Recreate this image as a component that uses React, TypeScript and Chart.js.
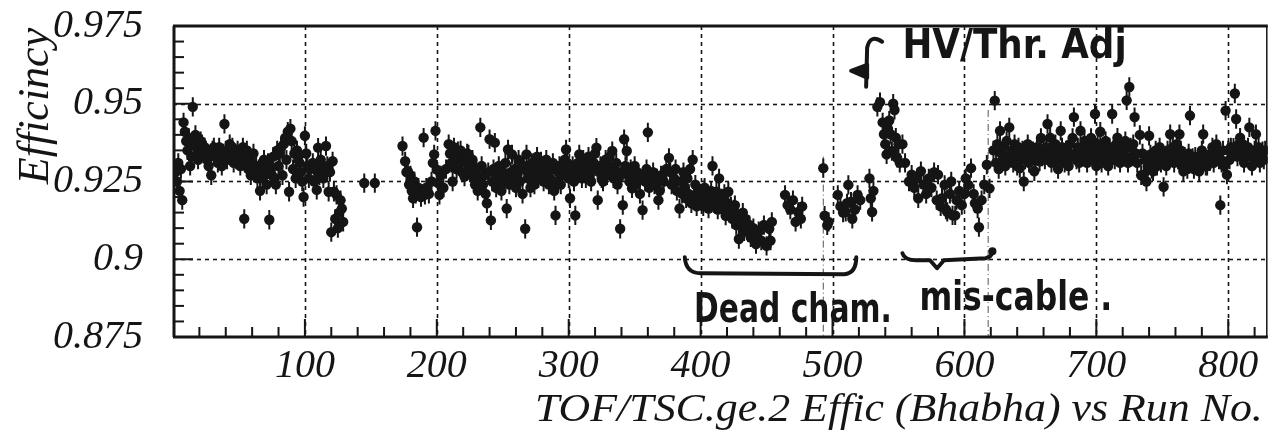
import { useEffect, useRef } from "react";
import { Chart, registerables } from "chart.js";

Chart.register(...registerables);

type Meas = [number, number]; // [run number, efficiency]

// Runs 1-155
const PERIOD_A: Meas[] = [
  [2, 0.928], [3, 0.925], [4, 0.931], [5, 0.922], [6, 0.929], [7, 0.919], [8, 0.944], [9, 0.941],
  [10, 0.938], [11, 0.935], [12, 0.939], [13, 0.93], [14, 0.933], [15, 0.949], [16, 0.937], [17, 0.94],
  [18, 0.936], [19, 0.932], [20, 0.934], [21, 0.938], [22, 0.937], [23, 0.934], [24, 0.936], [25, 0.935],
  [26, 0.932], [27, 0.93], [28, 0.933], [29, 0.927], [30, 0.935], [31, 0.936], [32, 0.933], [33, 0.934],
  [34, 0.931], [35, 0.936], [36, 0.933], [37, 0.93], [38, 0.934], [39, 0.9435], [40, 0.935], [41, 0.932],
  [42, 0.934], [43, 0.937], [44, 0.933], [45, 0.936], [46, 0.931], [47, 0.934], [48, 0.932], [49, 0.935],
  [50, 0.933], [51, 0.93], [52, 0.934], [53, 0.936], [54, 0.913], [55, 0.932], [56, 0.935], [57, 0.929],
  [58, 0.933], [59, 0.927], [60, 0.931], [61, 0.934], [62, 0.928], [63, 0.93], [64, 0.926], [65, 0.929],
  [66, 0.922], [67, 0.93], [68, 0.926], [69, 0.932], [70, 0.928], [71, 0.924], [72, 0.931], [73, 0.9127],
  [74, 0.929], [75, 0.927], [76, 0.933], [77, 0.926], [78, 0.924], [79, 0.935], [80, 0.93], [81, 0.934],
  [82, 0.936], [83, 0.927], [84, 0.937], [85, 0.939], [86, 0.932], [87, 0.941], [88, 0.9217], [89, 0.942],
  [90, 0.938], [91, 0.929], [92, 0.934], [93, 0.926], [94, 0.935], [95, 0.933], [96, 0.931], [97, 0.928],
  [98, 0.925], [99, 0.92], [100, 0.9397], [101, 0.934], [102, 0.93], [103, 0.926], [104, 0.929], [106, 0.931],
  [107, 0.925], [108, 0.929], [109, 0.9223], [110, 0.9359], [111, 0.927], [112, 0.932], [113, 0.93], [114, 0.926],
  [115, 0.928], [116, 0.9364], [117, 0.93], [118, 0.9217], [119, 0.928], [120, 0.9087], [121, 0.9315], [122, 0.9217],
  [123, 0.913], [124, 0.9207], [125, 0.91], [126, 0.915], [127, 0.919], [128, 0.9163], [129, 0.912],
  [145, 0.9245], [153, 0.9245],
];

// Runs 174-415
const PERIOD_B: Meas[] = [
  [174, 0.9364], [176, 0.9315], [177, 0.928], [178, 0.9283], [179, 0.924], [180, 0.927], [181, 0.922], [182, 0.9196],
  [183, 0.925], [184, 0.921], [185, 0.9103], [186, 0.923], [188, 0.92], [190, 0.9391], [191, 0.9207], [192, 0.923],
  [194, 0.921], [196, 0.925], [197, 0.931], [198, 0.9337], [199, 0.9413], [200, 0.9288], [201, 0.9245], [202, 0.9207],
  [203, 0.927], [205, 0.923], [207, 0.929], [209, 0.937], [210, 0.934], [211, 0.931], [212, 0.925], [213, 0.936],
  [214, 0.933], [215, 0.929], [216, 0.9348], [217, 0.931], [218, 0.935], [219, 0.928], [220, 0.933], [221, 0.9266],
  [222, 0.931], [223, 0.934], [224, 0.9337], [225, 0.93], [226, 0.928], [227, 0.932], [228, 0.926], [229, 0.924],
  [230, 0.929], [231, 0.922], [232, 0.926], [233, 0.9424], [234, 0.93], [235, 0.924], [236, 0.927], [237, 0.921],
  [238, 0.918], [239, 0.928], [240, 0.9386], [241, 0.9125], [242, 0.925], [243, 0.929], [244, 0.9375], [245, 0.923],
  [246, 0.927], [247, 0.93], [248, 0.925], [249, 0.922], [250, 0.928], [251, 0.926], [252, 0.931], [253, 0.9163],
  [254, 0.9353], [255, 0.924], [256, 0.928], [257, 0.9337], [258, 0.926], [259, 0.929], [260, 0.923], [261, 0.927],
  [262, 0.932], [263, 0.925], [264, 0.929], [265, 0.921], [266, 0.93], [267, 0.9098], [268, 0.9337], [269, 0.926],
  [270, 0.928], [271, 0.923], [272, 0.931], [273, 0.927], [274, 0.924], [275, 0.929], [276, 0.933], [277, 0.926],
  [278, 0.93], [279, 0.9315], [280, 0.928], [281, 0.925], [282, 0.93], [283, 0.932], [284, 0.927], [285, 0.924],
  [286, 0.926], [287, 0.929], [288, 0.931], [289, 0.922], [290, 0.9141], [291, 0.925], [292, 0.928], [293, 0.93],
  [294, 0.924], [295, 0.927], [296, 0.929], [297, 0.932], [298, 0.9353], [299, 0.931], [300, 0.926], [301, 0.9196],
  [302, 0.928], [303, 0.93], [304, 0.925], [305, 0.9141], [306, 0.927], [307, 0.931], [308, 0.9337], [309, 0.929],
  [310, 0.926], [311, 0.932], [312, 0.928], [313, 0.926], [314, 0.93], [315, 0.933], [316, 0.927], [317, 0.925],
  [318, 0.929], [319, 0.931], [320, 0.934], [321, 0.9359], [322, 0.919], [323, 0.928], [324, 0.93], [325, 0.926],
  [326, 0.925], [327, 0.929], [328, 0.932], [329, 0.927], [330, 0.93], [331, 0.933], [332, 0.928], [333, 0.9348],
  [334, 0.926], [335, 0.929], [336, 0.931], [337, 0.924], [338, 0.926], [339, 0.9098], [340, 0.928], [341, 0.9174],
  [342, 0.9386], [343, 0.93], [344, 0.9348], [345, 0.927], [346, 0.925], [347, 0.929], [348, 0.9228], [349, 0.927],
  [350, 0.93], [351, 0.924], [352, 0.928], [353, 0.926], [354, 0.921], [356, 0.9158], [357, 0.927], [358, 0.925],
  [359, 0.929], [360, 0.9408], [361, 0.923], [362, 0.926], [364, 0.928], [365, 0.924], [367, 0.926], [368, 0.919],
  [369, 0.922], [370, 0.927], [372, 0.925], [374, 0.929], [376, 0.9326], [377, 0.928], [378, 0.924], [380, 0.926],
  [381, 0.929], [382, 0.922], [384, 0.9163], [385, 0.925], [386, 0.921], [387, 0.928], [388, 0.923], [389, 0.9196],
  [390, 0.926], [391, 0.921], [392, 0.929], [393, 0.918], [394, 0.932], [395, 0.92], [396, 0.924], [397, 0.917],
  [398, 0.922], [399, 0.919], [400, 0.921], [401, 0.9196], [402, 0.917], [403, 0.923], [404, 0.918], [405, 0.92],
  [406, 0.9163], [407, 0.919], [408, 0.922], [409, 0.93], [410, 0.918], [411, 0.92], [412, 0.9217], [413, 0.916],
  [414, 0.926], [415, 0.919],
];

// Runs 416-531, dead chamber
const DEAD_CHAMBER: Meas[] = [
  [416, 0.9196], [417, 0.916], [418, 0.921], [419, 0.914], [420, 0.918], [421, 0.9217], [422, 0.915], [423, 0.917],
  [424, 0.913], [425, 0.916], [426, 0.9174], [427, 0.911], [428, 0.914], [429, 0.9065], [430, 0.912], [431, 0.9109],
  [432, 0.915], [433, 0.909], [434, 0.913], [436, 0.9087], [437, 0.911], [438, 0.907], [440, 0.91], [441, 0.9076],
  [442, 0.9049], [444, 0.909], [446, 0.906], [448, 0.911], [450, 0.9043], [452, 0.9098], [453, 0.906], [454, 0.912],
  [464, 0.9207], [466, 0.9174], [468, 0.916], [470, 0.919], [472, 0.912], [474, 0.9152], [476, 0.913], [477, 0.917],
  [493, 0.9293], [494, 0.914], [496, 0.9109], [497, 0.912], [504, 0.9207], [506, 0.917], [508, 0.915], [510, 0.9152],
  [511, 0.918], [512, 0.9239], [514, 0.9185], [515, 0.913], [517, 0.916], [519, 0.9207], [521, 0.919], [528, 0.926],
  [529, 0.9196], [530, 0.9152], [531, 0.922],
];

// Runs 534-551, after HV / threshold adjustment
const HV_ADJUST: Meas[] = [
  [534, 0.949], [536, 0.9505], [538, 0.944], [539, 0.9402], [540, 0.937], [541, 0.9337], [542, 0.942], [543, 0.9446],
  [544, 0.9402], [545, 0.9348], [546, 0.95], [547, 0.948], [548, 0.9391], [549, 0.9326], [550, 0.937], [551, 0.931],
];

// Runs 553-619, mis-cabled
const MIS_CABLE: Meas[] = [
  [553, 0.937], [555, 0.931], [558, 0.925], [560, 0.9272], [562, 0.923], [564, 0.926], [565, 0.9196], [567, 0.9283],
  [569, 0.924], [571, 0.921], [573, 0.926], [575, 0.923], [577, 0.928], [579, 0.919], [580, 0.9272], [582, 0.917],
  [583, 0.9196], [585, 0.9239], [586, 0.916], [587, 0.9152], [589, 0.921], [590, 0.925], [591, 0.9141], [593, 0.9141],
  [594, 0.919], [596, 0.922], [598, 0.9174], [600, 0.921], [601, 0.926], [603, 0.9239], [605, 0.9293], [607, 0.921],
  [608, 0.918], [610, 0.9163], [611, 0.9103], [613, 0.919], [615, 0.924], [617, 0.9304], [619, 0.9228],
];

// Runs 622-828
const PERIOD_C: Meas[] = [
  [622, 0.935], [623, 0.951], [624, 0.931], [625, 0.937], [626, 0.929], [627, 0.9413], [628, 0.934], [629, 0.932],
  [630, 0.936], [631, 0.93], [632, 0.938], [633, 0.933], [634, 0.9424], [635, 0.9326], [636, 0.935], [637, 0.931],
  [638, 0.937], [639, 0.934], [640, 0.93], [641, 0.936], [642, 0.9293], [643, 0.933], [644, 0.935], [645, 0.925],
  [646, 0.932], [647, 0.934], [648, 0.937], [649, 0.931], [650, 0.935], [651, 0.933], [652, 0.9348], [653, 0.9283],
  [654, 0.932], [655, 0.936], [656, 0.934], [657, 0.9315], [658, 0.939], [659, 0.933], [660, 0.935], [661, 0.932],
  [662, 0.936], [663, 0.9435], [664, 0.934], [665, 0.9391], [666, 0.931], [667, 0.935], [668, 0.9337], [669, 0.937],
  [670, 0.932], [671, 0.929], [672, 0.934], [673, 0.9413], [674, 0.936], [675, 0.933], [676, 0.931], [677, 0.935],
  [678, 0.9348], [679, 0.93], [680, 0.937], [681, 0.933], [682, 0.939], [683, 0.9457], [684, 0.934], [685, 0.932],
  [686, 0.936], [687, 0.931], [688, 0.9413], [689, 0.935], [690, 0.933], [691, 0.938], [692, 0.934], [693, 0.931],
  [694, 0.936], [695, 0.933], [696, 0.939], [697, 0.935], [698, 0.932], [699, 0.9467], [700, 0.93], [701, 0.937],
  [702, 0.934], [703, 0.941], [704, 0.931], [705, 0.935], [706, 0.9326], [707, 0.938], [708, 0.934], [709, 0.93],
  [710, 0.936], [711, 0.933], [712, 0.9467], [713, 0.935], [714, 0.932], [715, 0.937], [716, 0.9391], [717, 0.934],
  [718, 0.931], [719, 0.936], [720, 0.933], [721, 0.9348], [722, 0.938], [723, 0.9511], [724, 0.931], [725, 0.9554],
  [726, 0.936], [727, 0.933], [728, 0.937], [729, 0.9457], [730, 0.934], [731, 0.931], [733, 0.94], [734, 0.927],
  [735, 0.934], [736, 0.9272], [737, 0.932], [738, 0.925], [739, 0.93], [740, 0.9397], [741, 0.9337], [742, 0.929],
  [743, 0.9283], [744, 0.932], [745, 0.935], [746, 0.93], [747, 0.933], [748, 0.936], [749, 0.931], [750, 0.934],
  [751, 0.9233], [752, 0.9326], [753, 0.93], [754, 0.935], [755, 0.932], [756, 0.9402], [757, 0.933], [758, 0.936],
  [759, 0.931], [760, 0.934], [761, 0.937], [762, 0.932], [763, 0.9402], [764, 0.935], [765, 0.93], [766, 0.9283],
  [767, 0.933], [768, 0.931], [769, 0.929], [770, 0.934], [771, 0.9462], [772, 0.931], [773, 0.9326], [774, 0.929],
  [775, 0.933], [776, 0.93], [777, 0.932], [778, 0.9283], [779, 0.931], [780, 0.935], [781, 0.9402], [782, 0.933],
  [783, 0.93], [784, 0.93], [785, 0.932], [786, 0.9315], [787, 0.934], [788, 0.936], [789, 0.931], [790, 0.933],
  [791, 0.937], [792, 0.934], [793, 0.932], [794, 0.9174], [795, 0.931], [796, 0.935], [797, 0.93], [798, 0.9478],
  [799, 0.9272], [800, 0.935], [801, 0.932], [802, 0.936], [803, 0.934], [804, 0.9359], [805, 0.9533], [806, 0.9451],
  [807, 0.933], [808, 0.937], [809, 0.9391], [810, 0.934], [811, 0.937], [812, 0.931], [813, 0.935], [814, 0.933],
  [815, 0.936], [816, 0.9424], [817, 0.934], [818, 0.93], [819, 0.9326], [820, 0.935], [821, 0.9402], [822, 0.933],
  [823, 0.936], [824, 0.931], [825, 0.934], [826, 0.9348], [827, 0.932], [828, 0.935],
];

const PERIODS: Meas[][] = [PERIOD_A, PERIOD_B, DEAD_CHAMBER, HV_ADJUST, MIS_CABLE, PERIOD_C];

const ERR = 0.0031; // statistical error on each run's efficiency

const RUN_MIN = 0;
const RUN_MAX = 830;
const EFF_MIN = 0.875;
const EFF_MAX = 0.975;

const X_TICKS = [100, 200, 300, 400, 500, 600, 700, 800];
const Y_TICKS = [0.875, 0.9, 0.925, 0.95, 0.975];
const Y_TICK_LABELS = ["0.875", "0.9", "0.925", "0.95", "0.975"];

const X_TITLE = "TOF/TSC.ge.2 Effic (Bhabha) vs Run No.";
const Y_TITLE = "Efficincy";

// Hand-written notes: text spread between two runs, baseline at an efficiency
const NOTES = [
  { text: "HV/Thr. Adj", from: 553, to: 723, eff: 0.9647 },
  { text: "Dead cham.", from: 395, to: 545, eff: 0.8798 },
  { text: "mis-cable .", from: 566, to: 712, eff: 0.8838 },
];
const DEAD_BRACE = { from: 388, to: 518, eff: 0.9 };
const MIS_BRACE = { from: 553, to: 622, eff: 0.9013 };
const HOOK = { run: 527, eff: 0.9635 };
const MARK_LINES = [
  { run: 493, top: 0.933 },
  { run: 618, top: 0.948 },
];

const INK = "#151515";
const SERIF = "'Liberation Serif', 'Times New Roman', serif";
const HAND = "'DejaVu Sans', 'Liberation Sans', sans-serif";

function fitText(ctx: CanvasRenderingContext2D, font: string, text: string, left: number, right: number, baseline: number) {
  ctx.save();
  ctx.font = font;
  const w = ctx.measureText(text).width;
  ctx.translate(left, baseline);
  ctx.scale((right - left) / w, 1);
  ctx.textAlign = "left";
  ctx.textBaseline = "alphabetic";
  ctx.fillText(text, 0, 0);
  ctx.restore();
}

const decorPlugin = {
  id: "decor",
  beforeDatasetsDraw(chart: any) {
    const { ctx, chartArea: a, scales } = chart;
    const x = scales.x;
    const y = scales.y;
    ctx.save();
    // dotted grid at the labelled values
    ctx.strokeStyle = INK;
    ctx.lineWidth = 1.6;
    ctx.setLineDash([4, 4]);
    x.ticks.forEach((t: any) => {
      const px = Math.round(x.getPixelForValue(t.value)) + 0.5;
      ctx.beginPath();
      ctx.moveTo(px, a.top);
      ctx.lineTo(px, a.bottom);
      ctx.stroke();
    });
    y.ticks.forEach((t: any) => {
      if (t.value <= EFF_MIN || t.value >= EFF_MAX) return;
      const py = Math.round(y.getPixelForValue(t.value)) + 0.5;
      ctx.beginPath();
      ctx.moveTo(a.left, py);
      ctx.lineTo(a.right, py);
      ctx.stroke();
    });
    // dash-dot run markers
    ctx.lineWidth = 1;
    ctx.strokeStyle = "#555";
    ctx.setLineDash([7, 3, 1, 3]);
    MARK_LINES.forEach((m) => {
      const px = x.getPixelForValue(m.run);
      ctx.beginPath();
      ctx.moveTo(px, y.getPixelForValue(m.top));
      ctx.lineTo(px, a.bottom);
      ctx.stroke();
    });
    ctx.setLineDash([]);
    // error bars
    ctx.beginPath();
    ctx.rect(a.left, a.top, a.right - a.left, a.bottom - a.top);
    ctx.clip();
    ctx.strokeStyle = INK;
    ctx.lineWidth = 2;
    chart.data.datasets.forEach((ds: any) => {
      ds.data.forEach((p: any) => {
        const px = x.getPixelForValue(p.x);
        ctx.beginPath();
        ctx.moveTo(px, y.getPixelForValue(p.y - ERR));
        ctx.lineTo(px, y.getPixelForValue(p.y + ERR));
        ctx.stroke();
      });
    });
    ctx.restore();
  },
  afterDatasetsDraw(chart: any) {
    const { ctx, chartArea: a, scales } = chart;
    const x = scales.x;
    const y = scales.y;
    ctx.save();
    ctx.strokeStyle = INK;
    ctx.fillStyle = INK;
    ctx.lineCap = "butt";

    // frame
    ctx.lineWidth = 3;
    ctx.beginPath();
    ctx.moveTo(a.left + 1, a.top);
    ctx.lineTo(a.left + 1, a.bottom);
    ctx.moveTo(a.left, a.bottom);
    ctx.lineTo(a.right, a.bottom);
    ctx.moveTo(a.left, a.top);
    ctx.lineTo(a.right, a.top);
    ctx.stroke();
    ctx.lineWidth = 1.5;
    ctx.beginPath();
    ctx.moveTo(a.right - 1, a.top);
    ctx.lineTo(a.right - 1, a.bottom);
    ctx.stroke();

    // minor and major tick marks pointing into the frame
    ctx.lineWidth = 2;
    for (let i = 1; i < 20; i++) {
      const py = y.getPixelForValue(EFF_MIN + i * 0.005);
      const len = i % 5 === 0 ? 20 : 11;
      ctx.beginPath();
      ctx.moveTo(a.left, py);
      ctx.lineTo(a.left + len, py);
      ctx.stroke();
    }
    for (let r = 20; r < RUN_MAX; r += 20) {
      const px = x.getPixelForValue(r);
      const len = r % 100 === 0 ? 18 : 10;
      ctx.beginPath();
      ctx.moveTo(px, a.bottom);
      ctx.lineTo(px, a.bottom - len);
      ctx.stroke();
    }

    // axis titles
    fitText(ctx, `italic 41px ${SERIF}`, X_TITLE, 535, a.right - 5, 421);
    ctx.save();
    ctx.translate(48, a.top + 80);
    ctx.rotate(-Math.PI / 2);
    ctx.font = `italic 44px ${SERIF}`;
    ctx.textAlign = "center";
    ctx.textBaseline = "alphabetic";
    ctx.fillText(Y_TITLE, 0, 0);
    ctx.restore();

    // hand-written notes
    NOTES.forEach((n) => {
      fitText(ctx, `bold 40px ${HAND}`, n.text, x.getPixelForValue(n.from), x.getPixelForValue(n.to), y.getPixelForValue(n.eff));
    });

    ctx.lineWidth = 4;
    ctx.lineJoin = "round";
    ctx.lineCap = "round";
    // brace under the dead-chamber runs
    {
      const l = x.getPixelForValue(DEAD_BRACE.from);
      const r = x.getPixelForValue(DEAD_BRACE.to);
      const t = y.getPixelForValue(DEAD_BRACE.eff);
      const b = t + 14;
      ctx.beginPath();
      ctx.moveTo(l, t - 2);
      ctx.quadraticCurveTo(l + 1, b, l + 16, b);
      ctx.lineTo(r - 12, b + 1);
      ctx.quadraticCurveTo(r, b, r, t - 2);
      ctx.stroke();
    }
    // brace under the mis-cabled runs
    {
      const l = x.getPixelForValue(MIS_BRACE.from);
      const r = x.getPixelForValue(MIS_BRACE.to);
      const t = y.getPixelForValue(MIS_BRACE.eff);
      const m = l + (r - l) * 0.38;
      ctx.beginPath();
      ctx.moveTo(l, t - 2);
      ctx.quadraticCurveTo(l + 2, t + 5, l + 14, t + 5);
      ctx.lineTo(m - 7, t + 5);
      ctx.lineTo(m, t + 13);
      ctx.lineTo(m + 7, t + 5);
      ctx.lineTo(r - 8, t + 3);
      ctx.quadraticCurveTo(r - 2, t + 2, r - 1, t - 3);
      ctx.stroke();
      ctx.beginPath();
      ctx.arc(r - 1, t - 4, 4, 0, Math.PI * 2);
      ctx.fill();
    }
    // hook pointing at the adjusted runs
    {
      const hx = x.getPixelForValue(HOOK.run);
      const hy = y.getPixelForValue(HOOK.eff);
      ctx.beginPath();
      ctx.moveTo(hx + 14, hy - 20);
      ctx.quadraticCurveTo(hx + 2, hy - 28, hx - 1, hy - 14);
      ctx.lineTo(hx - 2, hy + 25);
      ctx.stroke();
      ctx.beginPath();
      ctx.moveTo(hx - 1, hy + 3);
      ctx.lineTo(hx - 17, hy + 9);
      ctx.lineTo(hx - 1, hy + 16);
      ctx.closePath();
      ctx.fill();
      ctx.stroke();
    }
    ctx.restore();
  },
};

export default function App() {
  const canvasRef = useRef<HTMLCanvasElement | null>(null);

  useEffect(() => {
    const canvas = canvasRef.current;
    if (!canvas) return;
    const chart = new Chart(canvas, {
      type: "scatter",
      data: {
        datasets: PERIODS.map((period) => ({
          data: period.map(([run, eff]) => ({ x: run, y: eff })),
          pointStyle: "circle",
          pointRadius: 5.2,
          pointHoverRadius: 5.2,
          pointBackgroundColor: INK,
          pointBorderWidth: 0,
          showLine: false,
        })),
      },
      options: {
        responsive: true,
        maintainAspectRatio: false,
        animation: false,
        events: [],
        layout: { padding: { top: 26, right: 3, left: 0, bottom: 0 } },
        plugins: {
          legend: { display: false },
          tooltip: { enabled: false },
          title: { display: false },
        },
        scales: {
          x: {
            type: "linear",
            min: RUN_MIN,
            max: RUN_MAX,
            grid: { display: false, drawTicks: false },
            border: { display: false },
            afterBuildTicks: (scale: any) => {
              scale.ticks = X_TICKS.map((v) => ({ value: v }));
            },
            afterFit: (scale: any) => {
              scale.height = 96;
              scale.paddingLeft = 0;
              scale.paddingRight = 0;
            },
            ticks: {
              autoSkip: false,
              maxRotation: 0,
              padding: 5,
              color: INK,
              font: { family: SERIF, style: "italic", size: 40 },
              callback: (_v: any, i: number) => String(X_TICKS[i]),
            },
          },
          y: {
            type: "linear",
            min: EFF_MIN,
            max: EFF_MAX,
            grid: { display: false, drawTicks: false },
            border: { display: false },
            afterBuildTicks: (scale: any) => {
              scale.ticks = Y_TICKS.map((v) => ({ value: v }));
            },
            afterFit: (scale: any) => {
              scale.width = 173;
              scale.paddingTop = 0;
              scale.paddingBottom = 0;
            },
            ticks: {
              padding: 30,
              color: INK,
              font: { family: SERIF, style: "italic", size: 40 },
              callback: (_v: any, i: number) => Y_TICK_LABELS[i],
            },
          },
        },
      },
      plugins: [decorPlugin],
    });
    return () => chart.destroy();
  }, []);

  return (
    <div style={{ position: "fixed", left: 0, top: 0, width: 1273, height: 433, background: "#fff" }}>
      <canvas ref={canvasRef} />
    </div>
  );
}
